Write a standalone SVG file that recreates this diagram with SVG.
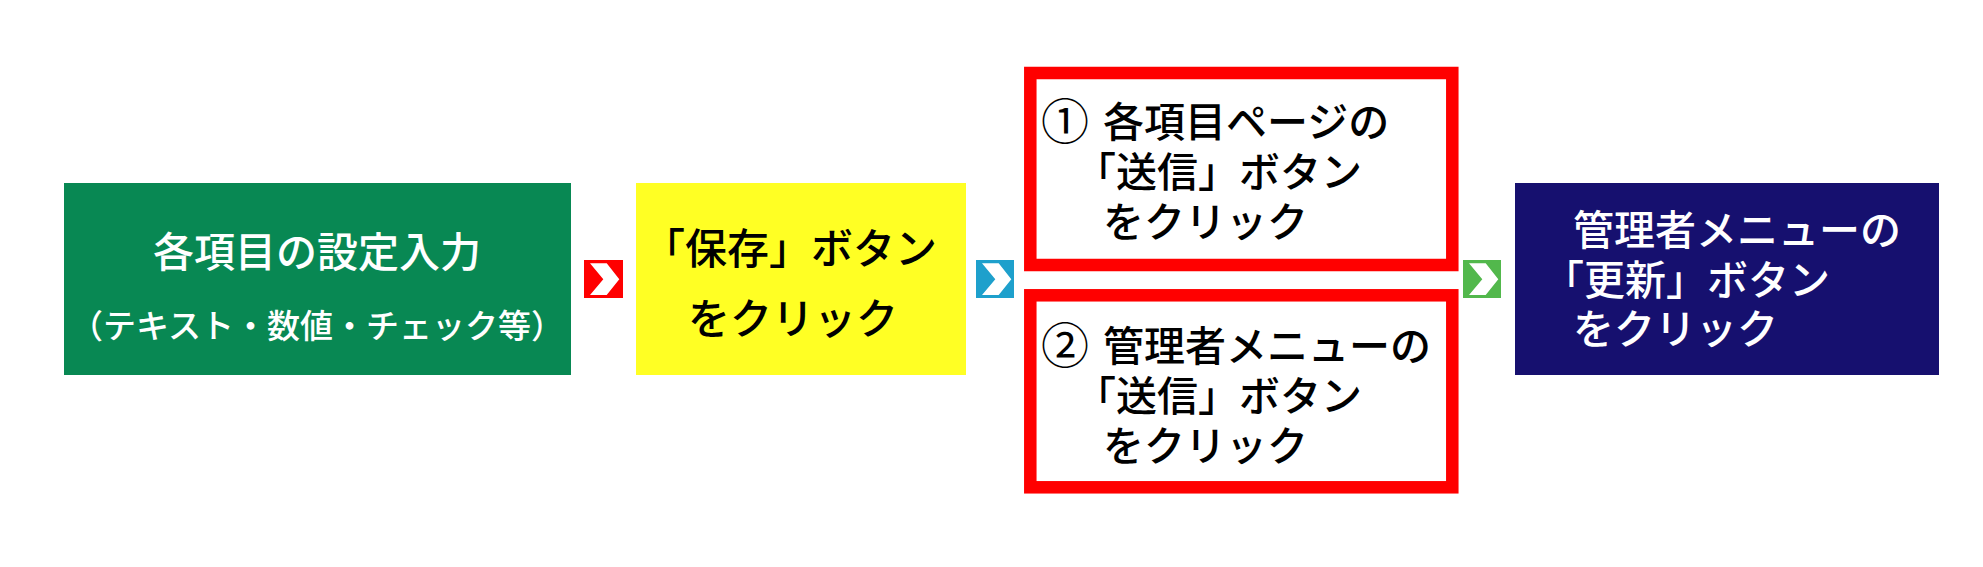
<svg xmlns="http://www.w3.org/2000/svg" xmlns:xlink="http://www.w3.org/1999/xlink" width="1983" height="567" viewBox="0 0 1983 567">
<style>
  .t { font-family: "Noto Sans CJK JP", "Noto Sans", sans-serif; font-size: 41px; font-weight: 500; }
  .num { font-size: 48px; font-weight: 400; }
  .w { fill: #ffffff; }
  .k { fill: #000000; }
  .redbox { fill: #ffffff; stroke: #ff0000; stroke-width: 12.5; }
  .chev { fill: #ffffff; }
</style>
<defs>
  <polygon id="chevShape" class="chev" points="6,3.3 22.7,3.3 35.3,19.3 22.7,35 6,35 19.3,19.3"/>
</defs>
<rect x="0" y="0" width="1983" height="567" fill="#ffffff"/>

<g id="node-input">
  <rect x="64" y="183" width="507" height="192" fill="#088853"/>
  <text class="t w" x="317" y="267" text-anchor="middle">各項目の設定入力</text>
  <text class="t w" x="317" y="338" text-anchor="middle" style="font-size:33px">（テキスト・数値・チェック等）</text>
</g>

<g id="node-save">
  <rect x="636" y="183" width="330" height="192" fill="#ffff24"/>
  <text class="t k" style="font-size:42px" x="643" y="264">「保存」ボタン</text>
  <text class="t k" style="font-size:42px" x="688" y="334">をクリック</text>
</g>

<g id="node-send1">
  <rect class="redbox" x="1030.3" y="73" width="422" height="192"/>
  <text class="t k num" x="1041" y="139">①</text>
  <text class="t k" x="1103" y="137">各項目ページの</text>
  <text class="t k" x="1075" y="187">「送信」ボタン</text>
  <text class="t k" x="1103" y="237">をクリック</text>
</g>

<g id="node-send2">
  <rect class="redbox" x="1030.3" y="295.3" width="422" height="192"/>
  <text class="t k num" x="1041" y="363">②</text>
  <text class="t k" x="1103" y="361">管理者メニューの</text>
  <text class="t k" x="1075" y="411">「送信」ボタン</text>
  <text class="t k" x="1103" y="461">をクリック</text>
</g>

<g id="node-update">
  <rect x="1515" y="183" width="424" height="192" fill="#16106f"/>
  <text class="t w" x="1573" y="245">管理者メニューの</text>
  <text class="t w" x="1543" y="295">「更新」ボタン</text>
  <text class="t w" x="1573" y="344">をクリック</text>
</g>

<g id="connectors">
  <g transform="translate(584,260)">
    <rect width="39" height="38" fill="#ff0000"/>
    <use xlink:href="#chevShape" href="#chevShape"/>
  </g>
  <g transform="translate(976,260)">
    <rect width="38" height="38" fill="#1ea0cc"/>
    <use xlink:href="#chevShape" href="#chevShape"/>
  </g>
  <g transform="translate(1463,260)">
    <rect width="38" height="38" fill="#52b84c"/>
    <use xlink:href="#chevShape" href="#chevShape"/>
  </g>
</g>
</svg>
